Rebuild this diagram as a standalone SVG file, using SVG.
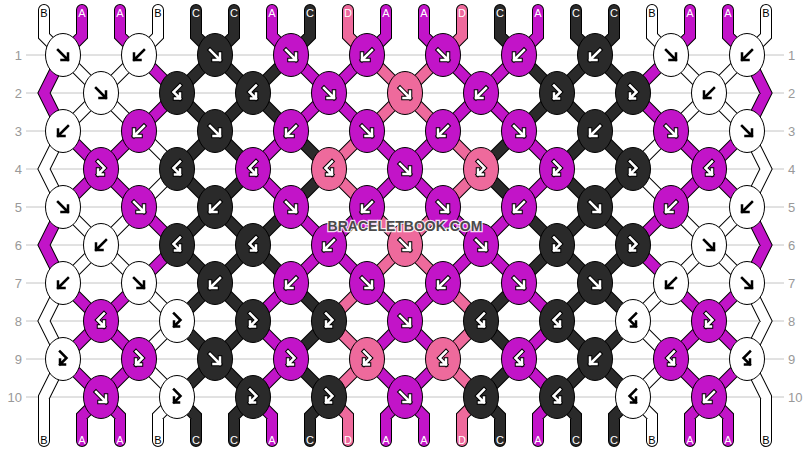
<svg xmlns="http://www.w3.org/2000/svg" xmlns:xlink="http://www.w3.org/1999/xlink" width="810" height="452" viewBox="0 0 810 452">
<style>
.rl{stroke:#c4c4c4;stroke-width:1}
.lab{font-family:"Liberation Sans",Arial,sans-serif;font-size:13px;fill:#999}
.le{text-anchor:end}
.o{fill:none;stroke:#000;stroke-width:12;stroke-linecap:round;stroke-linejoin:miter}
.s{fill:none;stroke-width:10;stroke-linecap:round;stroke-linejoin:miter}
.sA{stroke:#c214c8}.sB{stroke:#fff}.sC{stroke:#2a2a2a}.sD{stroke:#ee6a9c}
.kA{fill:#c214c8}.kB{fill:#fff}.kC{fill:#2a2a2a}.kD{fill:#ee6a9c}
.ao{fill:none;stroke:#000;stroke-width:4.5;stroke-linecap:square;stroke-linejoin:miter}
.ai{fill:none;stroke:#fff;stroke-width:2.5;stroke-linecap:square;stroke-linejoin:miter}
.ak{fill:none;stroke:#000;stroke-width:2.5;stroke-linecap:square;stroke-linejoin:miter}
.sl{font-family:"Liberation Sans",Arial,sans-serif;font-size:11px;text-anchor:middle}
.lw{fill:#fff}.lk{fill:#000}
.wm{font-family:"Liberation Sans",Arial,sans-serif;font-size:14px;font-weight:bold;text-anchor:middle;fill:#4a4a4a;stroke:#fff;stroke-width:2.5;stroke-opacity:0.85;paint-order:stroke}
</style>
<defs>
<ellipse id="e" rx="17.5" ry="21.5" stroke="#000" stroke-width="1"/>
<path id="pf" d="M-5,-5L5,5M5,-1.5L5,5L-1.5,5"/>
<path id="pb" d="M5,-5L-5,5M-5,-1.5L-5,5L1.5,5"/>
<path id="pfb" d="M-3,-7.5L3.5,-1L-3,5.5M-3,0.5L-3,5.5L2,5.5"/>
<path id="pbf" d="M3,-7.5L-3.5,-1L3,5.5M3,0.5L3,5.5L-2,5.5"/>
<g id="fW"><use href="#pf" class="ao"/><use href="#pf" class="ai"/></g>
<g id="fK"><use href="#pf" class="ak"/></g>
<g id="bW"><use href="#pb" class="ao"/><use href="#pb" class="ai"/></g>
<g id="bK"><use href="#pb" class="ak"/></g>
<g id="fbW"><use href="#pfb" class="ao"/><use href="#pfb" class="ai"/></g>
<g id="fbK"><use href="#pfb" class="ak"/></g>
<g id="bfW"><use href="#pbf" class="ao"/><use href="#pbf" class="ai"/></g>
<g id="bfK"><use href="#pbf" class="ak"/></g>
<path id="pA" d="M139 55L177 93M291 55L329 93M367 55L329 93M443 55L481 93M519 55L481 93M671 55L633 93M177 93L139 131M329 93L291 131M329 93L367 131M481 93L443 131M481 93L519 131M633 93L671 131M63 131L101 169M139 131L101 169M291 131L253 169M367 131L405 169M443 131L405 169M519 131L557 169M671 131L709 169M747 131L709 169M101 169L63 207M101 169L139 207M253 169L291 207M405 169L367 207M405 169L443 207M557 169L519 207M709 169L671 207M709 169L747 207M139 207L177 245M291 207L329 245M367 207L329 245M443 207L481 245M519 207L481 245M671 207L633 245M177 245L139 283M329 245L291 283M329 245L367 283M481 245L443 283M481 245L519 283M633 245L671 283M63 283L101 321M139 283L101 321M291 283L253 321M367 283L405 321M443 283L405 321M519 283L557 321M671 283L709 321M747 283L709 321M101 321L63 359M101 321L139 359M253 321L291 359M405 321L367 359M405 321L443 359M557 321L519 359M709 321L671 359M709 321L747 359M63 359L101 397M139 359L101 397M291 359L253 397M367 359L405 397M443 359L405 397M519 359L557 397M671 359L709 397M747 359L709 397M82 10L82 36L63 55M120 10L120 36L139 55M272 10L272 36L291 55M386 10L386 36L367 55M424 10L424 36L443 55M538 10L538 36L519 55M690 10L690 36L671 55M728 10L728 36L747 55M101 397L82 416L82 441M101 397L120 416L120 441M253 397L272 416L272 441M405 397L386 416L386 441M405 397L424 416L424 441M557 397L538 416L538 441M709 397L690 416L690 441M709 397L728 416L728 441M63 55L44 93L63 131M63 207L44 245L63 283M747 55L766 93L747 131M747 207L766 245L747 283"/>
<path id="pB" d="M63 55L101 93M139 55L101 93M671 55L709 93M747 55L709 93M101 93L63 131M101 93L139 131M709 93L671 131M709 93L747 131M139 131L177 169M671 131L633 169M177 169L139 207M633 169L671 207M63 207L101 245M139 207L101 245M671 207L709 245M747 207L709 245M101 245L63 283M101 245L139 283M709 245L671 283M709 245L747 283M139 283L177 321M671 283L633 321M177 321L139 359M633 321L671 359M139 359L177 397M671 359L633 397M44 10L44 36L63 55M158 10L158 36L139 55M652 10L652 36L671 55M766 10L766 36L747 55M177 397L158 416L158 441M633 397L652 416L652 441M63 131L44 169L63 207M63 283L44 321L63 359L44 397L44 441M747 131L766 169L747 207M747 283L766 321L747 359L766 397L766 441"/>
<path id="pC" d="M215 55L177 93M215 55L253 93M291 55L253 93M519 55L557 93M595 55L557 93M595 55L633 93M177 93L215 131M253 93L215 131M253 93L291 131M557 93L519 131M557 93L595 131M633 93L595 131M215 131L177 169M215 131L253 169M291 131L329 169M519 131L481 169M595 131L557 169M595 131L633 169M177 169L215 207M253 169L215 207M329 169L291 207M481 169L519 207M557 169L595 207M633 169L595 207M215 207L177 245M215 207L253 245M291 207L253 245M519 207L557 245M595 207L557 245M595 207L633 245M177 245L215 283M253 245L215 283M253 245L291 283M557 245L519 283M557 245L595 283M633 245L595 283M215 283L177 321M215 283L253 321M291 283L329 321M519 283L481 321M595 283L557 321M595 283L633 321M177 321L215 359M253 321L215 359M329 321L291 359M481 321L519 359M557 321L595 359M633 321L595 359M215 359L177 397M215 359L253 397M291 359L329 397M519 359L481 397M595 359L557 397M595 359L633 397M196 10L196 36L215 55M234 10L234 36L215 55M310 10L310 36L291 55M500 10L500 36L519 55M576 10L576 36L595 55M614 10L614 36L595 55M177 397L196 416L196 441M253 397L234 416L234 441M329 397L310 416L310 441M481 397L500 416L500 441M557 397L576 416L576 441M633 397L614 416L614 441"/>
<path id="pD" d="M367 55L405 93M443 55L405 93M405 93L367 131M405 93L443 131M367 131L329 169M443 131L481 169M329 169L367 207M481 169L443 207M367 207L405 245M443 207L405 245M405 245L367 283M405 245L443 283M367 283L329 321M443 283L481 321M329 321L367 359M481 321L443 359M367 359L329 397M443 359L481 397M348 10L348 36L367 55M462 10L462 36L443 55M329 397L348 416L348 441M481 397L462 416L462 441"/>
</defs>
<rect width="810" height="452" fill="#fff"/>
<g id="rows">
<line class="rl" x1="26" y1="55" x2="784" y2="55"/>
<line class="rl" x1="26" y1="93" x2="784" y2="93"/>
<line class="rl" x1="26" y1="131" x2="784" y2="131"/>
<line class="rl" x1="26" y1="169" x2="784" y2="169"/>
<line class="rl" x1="26" y1="207" x2="784" y2="207"/>
<line class="rl" x1="26" y1="245" x2="784" y2="245"/>
<line class="rl" x1="26" y1="283" x2="784" y2="283"/>
<line class="rl" x1="26" y1="321" x2="784" y2="321"/>
<line class="rl" x1="26" y1="359" x2="784" y2="359"/>
<line class="rl" x1="26" y1="397" x2="784" y2="397"/>
<text class="lab le" x="22" y="60">1</text><text class="lab" x="788" y="60">1</text>
<text class="lab le" x="22" y="98">2</text><text class="lab" x="788" y="98">2</text>
<text class="lab le" x="22" y="136">3</text><text class="lab" x="788" y="136">3</text>
<text class="lab le" x="22" y="174">4</text><text class="lab" x="788" y="174">4</text>
<text class="lab le" x="22" y="212">5</text><text class="lab" x="788" y="212">5</text>
<text class="lab le" x="22" y="250">6</text><text class="lab" x="788" y="250">6</text>
<text class="lab le" x="22" y="288">7</text><text class="lab" x="788" y="288">7</text>
<text class="lab le" x="22" y="326">8</text><text class="lab" x="788" y="326">8</text>
<text class="lab le" x="22" y="364">9</text><text class="lab" x="788" y="364">9</text>
<text class="lab le" x="22" y="402">10</text><text class="lab" x="788" y="402">10</text>
</g>
<g id="connectors">
<use href="#pA" class="o"/><use href="#pB" class="o"/><use href="#pC" class="o"/><use href="#pD" class="o"/>
<use href="#pA" class="s sA"/><use href="#pB" class="s sB"/><use href="#pC" class="s sC"/><use href="#pD" class="s sD"/>
</g>
<g id="string-labels" class="sl">
<text x="44" y="16.5" class="lk">B</text><text x="82" y="16.5" class="lw">A</text><text x="120" y="16.5" class="lw">A</text><text x="158" y="16.5" class="lk">B</text><text x="196" y="16.5" class="lw">C</text><text x="234" y="16.5" class="lw">C</text><text x="272" y="16.5" class="lw">A</text><text x="310" y="16.5" class="lw">C</text><text x="348" y="16.5" class="lw">D</text><text x="386" y="16.5" class="lw">A</text><text x="424" y="16.5" class="lw">A</text><text x="462" y="16.5" class="lw">D</text><text x="500" y="16.5" class="lw">C</text><text x="538" y="16.5" class="lw">A</text><text x="576" y="16.5" class="lw">C</text><text x="614" y="16.5" class="lw">C</text><text x="652" y="16.5" class="lk">B</text><text x="690" y="16.5" class="lw">A</text><text x="728" y="16.5" class="lw">A</text><text x="766" y="16.5" class="lk">B</text>
<text x="44" y="444" class="lk">B</text><text x="82" y="444" class="lw">A</text><text x="120" y="444" class="lw">A</text><text x="158" y="444" class="lk">B</text><text x="196" y="444" class="lw">C</text><text x="234" y="444" class="lw">C</text><text x="272" y="444" class="lw">A</text><text x="310" y="444" class="lw">C</text><text x="348" y="444" class="lw">D</text><text x="386" y="444" class="lw">A</text><text x="424" y="444" class="lw">A</text><text x="462" y="444" class="lw">D</text><text x="500" y="444" class="lw">C</text><text x="538" y="444" class="lw">A</text><text x="576" y="444" class="lw">C</text><text x="614" y="444" class="lw">C</text><text x="652" y="444" class="lk">B</text><text x="690" y="444" class="lw">A</text><text x="728" y="444" class="lw">A</text><text x="766" y="444" class="lk">B</text>
</g>
<g id="knots">
<g id="k1-1"><use href="#e" x="63" y="55" class="kB"/><use href="#fK" x="63" y="55"/></g>
<g id="k1-2"><use href="#e" x="139" y="55" class="kB"/><use href="#bK" x="139" y="55"/></g>
<g id="k1-3"><use href="#e" x="215" y="55" class="kC"/><use href="#fW" x="215" y="55"/></g>
<g id="k1-4"><use href="#e" x="291" y="55" class="kA"/><use href="#fW" x="291" y="55"/></g>
<g id="k1-5"><use href="#e" x="367" y="55" class="kA"/><use href="#bW" x="367" y="55"/></g>
<g id="k1-6"><use href="#e" x="443" y="55" class="kA"/><use href="#fW" x="443" y="55"/></g>
<g id="k1-7"><use href="#e" x="519" y="55" class="kA"/><use href="#bW" x="519" y="55"/></g>
<g id="k1-8"><use href="#e" x="595" y="55" class="kC"/><use href="#bW" x="595" y="55"/></g>
<g id="k1-9"><use href="#e" x="671" y="55" class="kB"/><use href="#fK" x="671" y="55"/></g>
<g id="k1-10"><use href="#e" x="747" y="55" class="kB"/><use href="#bK" x="747" y="55"/></g>
<g id="k2-1"><use href="#e" x="101" y="93" class="kB"/><use href="#fK" x="101" y="93"/></g>
<g id="k2-2"><use href="#e" x="177" y="93" class="kC"/><use href="#bfW" x="177" y="93"/></g>
<g id="k2-3"><use href="#e" x="253" y="93" class="kC"/><use href="#bfW" x="253" y="93"/></g>
<g id="k2-4"><use href="#e" x="329" y="93" class="kA"/><use href="#fW" x="329" y="93"/></g>
<g id="k2-5"><use href="#e" x="405" y="93" class="kD"/><use href="#fW" x="405" y="93"/></g>
<g id="k2-6"><use href="#e" x="481" y="93" class="kA"/><use href="#bW" x="481" y="93"/></g>
<g id="k2-7"><use href="#e" x="557" y="93" class="kC"/><use href="#fbW" x="557" y="93"/></g>
<g id="k2-8"><use href="#e" x="633" y="93" class="kC"/><use href="#fbW" x="633" y="93"/></g>
<g id="k2-9"><use href="#e" x="709" y="93" class="kB"/><use href="#bK" x="709" y="93"/></g>
<g id="k3-1"><use href="#e" x="63" y="131" class="kB"/><use href="#bK" x="63" y="131"/></g>
<g id="k3-2"><use href="#e" x="139" y="131" class="kA"/><use href="#bW" x="139" y="131"/></g>
<g id="k3-3"><use href="#e" x="215" y="131" class="kC"/><use href="#fW" x="215" y="131"/></g>
<g id="k3-4"><use href="#e" x="291" y="131" class="kA"/><use href="#bW" x="291" y="131"/></g>
<g id="k3-5"><use href="#e" x="367" y="131" class="kA"/><use href="#fW" x="367" y="131"/></g>
<g id="k3-6"><use href="#e" x="443" y="131" class="kA"/><use href="#bW" x="443" y="131"/></g>
<g id="k3-7"><use href="#e" x="519" y="131" class="kA"/><use href="#fW" x="519" y="131"/></g>
<g id="k3-8"><use href="#e" x="595" y="131" class="kC"/><use href="#bW" x="595" y="131"/></g>
<g id="k3-9"><use href="#e" x="671" y="131" class="kA"/><use href="#fW" x="671" y="131"/></g>
<g id="k3-10"><use href="#e" x="747" y="131" class="kB"/><use href="#fK" x="747" y="131"/></g>
<g id="k4-1"><use href="#e" x="101" y="169" class="kA"/><use href="#fbW" x="101" y="169"/></g>
<g id="k4-2"><use href="#e" x="177" y="169" class="kC"/><use href="#bfW" x="177" y="169"/></g>
<g id="k4-3"><use href="#e" x="253" y="169" class="kA"/><use href="#bfW" x="253" y="169"/></g>
<g id="k4-4"><use href="#e" x="329" y="169" class="kD"/><use href="#bfW" x="329" y="169"/></g>
<g id="k4-5"><use href="#e" x="405" y="169" class="kA"/><use href="#fW" x="405" y="169"/></g>
<g id="k4-6"><use href="#e" x="481" y="169" class="kD"/><use href="#fbW" x="481" y="169"/></g>
<g id="k4-7"><use href="#e" x="557" y="169" class="kA"/><use href="#fbW" x="557" y="169"/></g>
<g id="k4-8"><use href="#e" x="633" y="169" class="kC"/><use href="#fbW" x="633" y="169"/></g>
<g id="k4-9"><use href="#e" x="709" y="169" class="kA"/><use href="#bfW" x="709" y="169"/></g>
<g id="k5-1"><use href="#e" x="63" y="207" class="kB"/><use href="#fK" x="63" y="207"/></g>
<g id="k5-2"><use href="#e" x="139" y="207" class="kA"/><use href="#fW" x="139" y="207"/></g>
<g id="k5-3"><use href="#e" x="215" y="207" class="kC"/><use href="#bW" x="215" y="207"/></g>
<g id="k5-4"><use href="#e" x="291" y="207" class="kA"/><use href="#fW" x="291" y="207"/></g>
<g id="k5-5"><use href="#e" x="367" y="207" class="kA"/><use href="#bW" x="367" y="207"/></g>
<g id="k5-6"><use href="#e" x="443" y="207" class="kA"/><use href="#fW" x="443" y="207"/></g>
<g id="k5-7"><use href="#e" x="519" y="207" class="kA"/><use href="#bW" x="519" y="207"/></g>
<g id="k5-8"><use href="#e" x="595" y="207" class="kC"/><use href="#fW" x="595" y="207"/></g>
<g id="k5-9"><use href="#e" x="671" y="207" class="kA"/><use href="#bW" x="671" y="207"/></g>
<g id="k5-10"><use href="#e" x="747" y="207" class="kB"/><use href="#bK" x="747" y="207"/></g>
<g id="k6-1"><use href="#e" x="101" y="245" class="kB"/><use href="#bK" x="101" y="245"/></g>
<g id="k6-2"><use href="#e" x="177" y="245" class="kC"/><use href="#bfW" x="177" y="245"/></g>
<g id="k6-3"><use href="#e" x="253" y="245" class="kC"/><use href="#bfW" x="253" y="245"/></g>
<g id="k6-4"><use href="#e" x="329" y="245" class="kA"/><use href="#bW" x="329" y="245"/></g>
<g id="k6-5"><use href="#e" x="405" y="245" class="kD"/><use href="#fW" x="405" y="245"/></g>
<g id="k6-6"><use href="#e" x="481" y="245" class="kA"/><use href="#fW" x="481" y="245"/></g>
<g id="k6-7"><use href="#e" x="557" y="245" class="kC"/><use href="#fbW" x="557" y="245"/></g>
<g id="k6-8"><use href="#e" x="633" y="245" class="kC"/><use href="#fbW" x="633" y="245"/></g>
<g id="k6-9"><use href="#e" x="709" y="245" class="kB"/><use href="#fK" x="709" y="245"/></g>
<g id="k7-1"><use href="#e" x="63" y="283" class="kB"/><use href="#bK" x="63" y="283"/></g>
<g id="k7-2"><use href="#e" x="139" y="283" class="kB"/><use href="#fK" x="139" y="283"/></g>
<g id="k7-3"><use href="#e" x="215" y="283" class="kC"/><use href="#bW" x="215" y="283"/></g>
<g id="k7-4"><use href="#e" x="291" y="283" class="kA"/><use href="#bW" x="291" y="283"/></g>
<g id="k7-5"><use href="#e" x="367" y="283" class="kA"/><use href="#fW" x="367" y="283"/></g>
<g id="k7-6"><use href="#e" x="443" y="283" class="kA"/><use href="#bW" x="443" y="283"/></g>
<g id="k7-7"><use href="#e" x="519" y="283" class="kA"/><use href="#fW" x="519" y="283"/></g>
<g id="k7-8"><use href="#e" x="595" y="283" class="kC"/><use href="#fW" x="595" y="283"/></g>
<g id="k7-9"><use href="#e" x="671" y="283" class="kB"/><use href="#bK" x="671" y="283"/></g>
<g id="k7-10"><use href="#e" x="747" y="283" class="kB"/><use href="#fK" x="747" y="283"/></g>
<g id="k8-1"><use href="#e" x="101" y="321" class="kA"/><use href="#bfW" x="101" y="321"/></g>
<g id="k8-2"><use href="#e" x="177" y="321" class="kB"/><use href="#fbK" x="177" y="321"/></g>
<g id="k8-3"><use href="#e" x="253" y="321" class="kC"/><use href="#fbW" x="253" y="321"/></g>
<g id="k8-4"><use href="#e" x="329" y="321" class="kC"/><use href="#fbW" x="329" y="321"/></g>
<g id="k8-5"><use href="#e" x="405" y="321" class="kA"/><use href="#fW" x="405" y="321"/></g>
<g id="k8-6"><use href="#e" x="481" y="321" class="kC"/><use href="#bfW" x="481" y="321"/></g>
<g id="k8-7"><use href="#e" x="557" y="321" class="kC"/><use href="#bfW" x="557" y="321"/></g>
<g id="k8-8"><use href="#e" x="633" y="321" class="kB"/><use href="#bfK" x="633" y="321"/></g>
<g id="k8-9"><use href="#e" x="709" y="321" class="kA"/><use href="#fbW" x="709" y="321"/></g>
<g id="k9-1"><use href="#e" x="63" y="359" class="kB"/><use href="#fbK" x="63" y="359"/></g>
<g id="k9-2"><use href="#e" x="139" y="359" class="kA"/><use href="#fbW" x="139" y="359"/></g>
<g id="k9-3"><use href="#e" x="215" y="359" class="kC"/><use href="#fW" x="215" y="359"/></g>
<g id="k9-4"><use href="#e" x="291" y="359" class="kA"/><use href="#fbW" x="291" y="359"/></g>
<g id="k9-5"><use href="#e" x="367" y="359" class="kD"/><use href="#fbW" x="367" y="359"/></g>
<g id="k9-6"><use href="#e" x="443" y="359" class="kD"/><use href="#bfW" x="443" y="359"/></g>
<g id="k9-7"><use href="#e" x="519" y="359" class="kA"/><use href="#bfW" x="519" y="359"/></g>
<g id="k9-8"><use href="#e" x="595" y="359" class="kC"/><use href="#bW" x="595" y="359"/></g>
<g id="k9-9"><use href="#e" x="671" y="359" class="kA"/><use href="#bfW" x="671" y="359"/></g>
<g id="k9-10"><use href="#e" x="747" y="359" class="kB"/><use href="#bfK" x="747" y="359"/></g>
<g id="k10-1"><use href="#e" x="101" y="397" class="kA"/><use href="#fW" x="101" y="397"/></g>
<g id="k10-2"><use href="#e" x="177" y="397" class="kB"/><use href="#fbK" x="177" y="397"/></g>
<g id="k10-3"><use href="#e" x="253" y="397" class="kC"/><use href="#fbW" x="253" y="397"/></g>
<g id="k10-4"><use href="#e" x="329" y="397" class="kC"/><use href="#fbW" x="329" y="397"/></g>
<g id="k10-5"><use href="#e" x="405" y="397" class="kA"/><use href="#fW" x="405" y="397"/></g>
<g id="k10-6"><use href="#e" x="481" y="397" class="kC"/><use href="#bfW" x="481" y="397"/></g>
<g id="k10-7"><use href="#e" x="557" y="397" class="kC"/><use href="#bfW" x="557" y="397"/></g>
<g id="k10-8"><use href="#e" x="633" y="397" class="kB"/><use href="#bfK" x="633" y="397"/></g>
<g id="k10-9"><use href="#e" x="709" y="397" class="kA"/><use href="#bW" x="709" y="397"/></g>
</g>
<text class="wm" x="405" y="231">BRACELETBOOK.COM</text>
</svg>
